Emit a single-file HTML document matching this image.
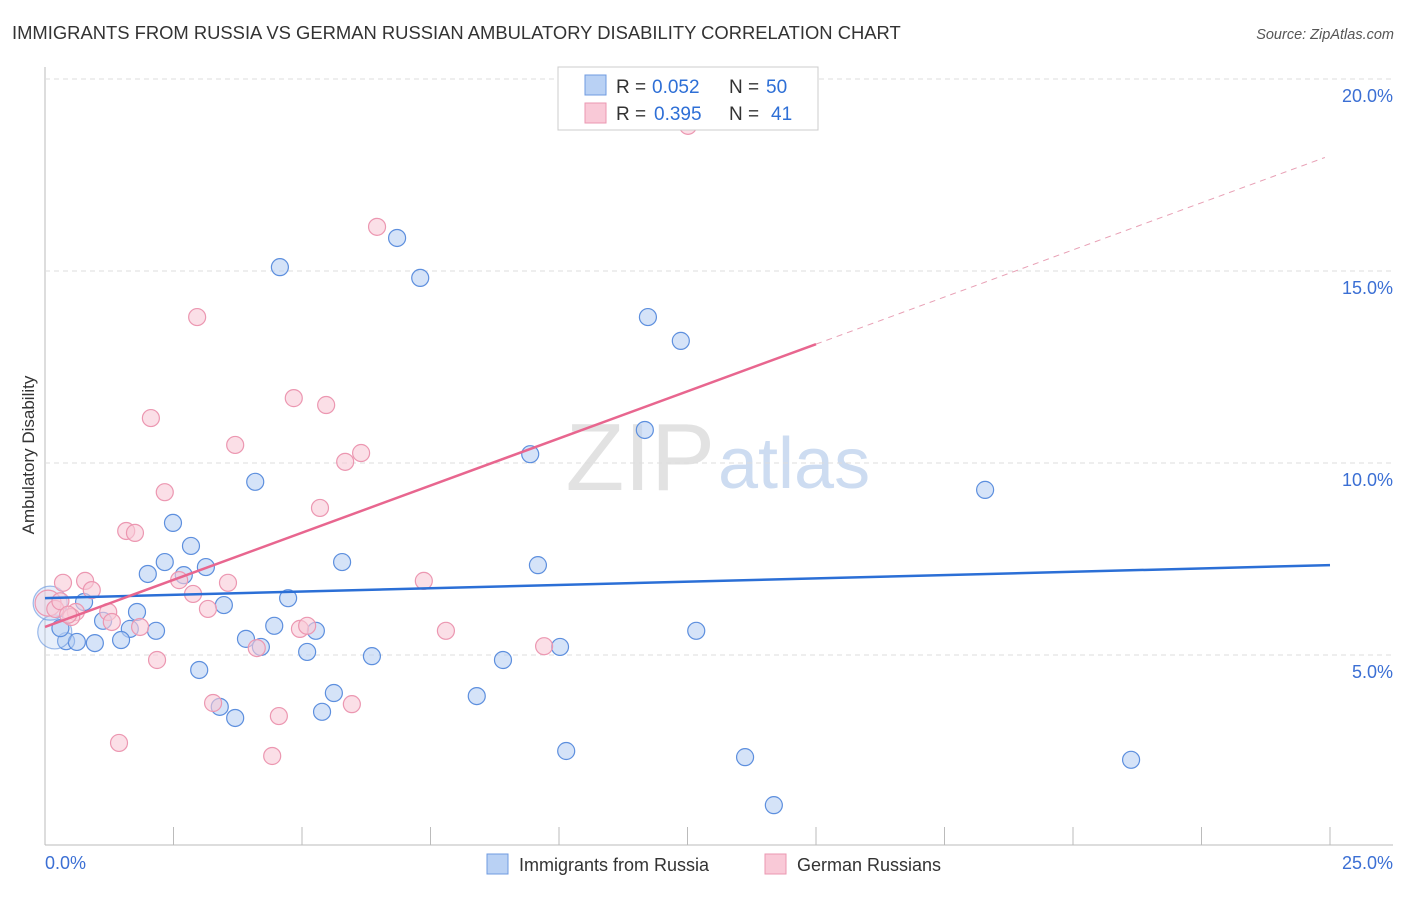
<!DOCTYPE html>
<html><head><meta charset="utf-8"><style>
body{margin:0;background:#fff;font-family:"Liberation Sans",sans-serif}
svg text{font-family:"Liberation Sans",sans-serif}
</style></head><body>
<svg id="c" width="1406" height="892" xmlns="http://www.w3.org/2000/svg">
<text x="12" y="39" font-size="18.4" fill="#333">IMMIGRANTS FROM RUSSIA VS GERMAN RUSSIAN AMBULATORY DISABILITY CORRELATION CHART</text>
<text x="1394" y="39" font-size="14.5" fill="#555" font-style="italic" text-anchor="end">Source: ZipAtlas.com</text>
<text x="715" y="490" font-size="96" fill="#e2e2e2" text-anchor="end" font-family="Liberation Serif">ZIP</text>
<text x="718" y="488" font-size="72" fill="#cddcf1">atlas</text>
<text transform="translate(34,455) rotate(-90)" font-size="17" fill="#333" text-anchor="middle">Ambulatory Disability</text>
<g id="grid"></g><g id="pts"></g><g id="lines"></g>
<g>
<rect x="558" y="67" width="260" height="63" fill="#fff" stroke="#ccc"/>
<rect x="585" y="75" width="21" height="20" fill="#b9d1f4" stroke="#6f9be0"/>
<rect x="585" y="103" width="21" height="20" fill="#f9c9d7" stroke="#eb97b2"/>
<g font-size="19" fill="#333">
<text x="616" y="93">R =</text><text x="652" y="93" fill="#2e6fd6">0.052</text><text x="729" y="93">N =</text><text x="766" y="93" fill="#2e6fd6">50</text></g>
<g font-size="19" fill="#333">
<text x="616" y="120">R =</text><text x="654" y="120" fill="#2e6fd6">0.395</text><text x="729" y="120">N =</text><text x="771" y="120" fill="#2e6fd6">41</text></g>
</g>
<g>
<rect x="487" y="854" width="21" height="20" fill="#b9d1f4" stroke="#6f9be0"/>
<text x="519" y="871" font-size="18" fill="#333">Immigrants from Russia</text>
<rect x="765" y="854" width="21" height="20" fill="#f9c9d7" stroke="#eb97b2"/>
<text x="797" y="871" font-size="18" fill="#333">German Russians</text>
</g>
</svg>
<script>
const yTicks=[5,10,15,20];
const yTickLabels=["5.0%","10.0%","15.0%","20.0%"];
const xTicks=[0,2.5,5,7.5,10,12.5,15,17.5,20,22.5,25];
const russiaX=[4.57,6.85,7.30,11.73,12.37,11.67,9.44,4.09,18.29,2.49,2.84,2.33,2.00,2.70,3.13,5.78,9.59,0.76,1.79,3.48,4.73,1.13,1.65,2.16,4.46,5.27,12.67,0.41,0.62,0.97,1.48,3.91,4.20,5.10,6.36,10.02,8.91,3.00,5.62,8.40,3.40,5.39,3.70,10.14,13.62,21.13,14.18,0.19,0.10,0.30];
const russiaY=[15.10,15.86,14.82,13.80,13.18,10.86,10.23,9.51,9.30,8.44,7.84,7.42,7.11,7.08,7.29,7.42,7.34,6.38,6.12,6.30,6.48,5.89,5.68,5.63,5.76,5.63,5.63,5.36,5.34,5.31,5.39,5.42,5.21,5.08,4.97,5.21,4.87,4.61,4.01,3.93,3.65,3.52,3.36,2.50,2.34,2.27,1.09,5.60,6.35,5.70];
const germanX=[12.51,6.46,2.96,4.84,5.47,2.06,3.70,5.84,6.15,2.33,5.35,1.58,1.75,0.35,0.78,0.91,2.61,2.88,3.56,7.37,0.60,1.23,1.30,0.51,1.85,3.17,4.96,5.10,7.80,9.71,4.12,2.18,3.27,5.97,4.55,1.44,4.42,0.06,0.20,0.30,0.45];
const germanY=[18.78,16.15,13.80,11.69,11.51,11.17,10.47,10.03,10.26,9.24,8.83,8.23,8.18,6.88,6.93,6.69,6.95,6.59,6.88,6.93,6.12,6.12,5.86,5.99,5.73,6.20,5.68,5.76,5.63,5.23,5.18,4.87,3.75,3.72,3.41,2.71,2.37,6.35,6.20,6.40,6.05];
const russiaTrend=[6.48,7.34];
const germanTrend=[5.73,0.491];
const X=v=>45+v*51.4, Y=v=>847-v*38.4;
const ns="http://www.w3.org/2000/svg";
function mk(t,a,p){const e=document.createElementNS(ns,t);for(const k in a)e.setAttribute(k,a[k]);p.appendChild(e);return e;}
const grid=document.getElementById('grid');
let ax=mk('line',{x1:45,y1:845,x2:1393,y2:845,stroke:'#bbb'},grid);


let ay=mk('line',{x1:45,y1:67,x2:45,y2:845,stroke:'#bbb'},grid);


yTicks.forEach((t,i)=>{
 let g=mk('line',{x1:45,y1:Y(t),x2:1393,y2:Y(t),stroke:'#ddd','stroke-dasharray':'5,4'},grid);
 
 
 let l=mk('text',{x:1393,y:Y(t)+23,'font-size':18,fill:'#3b6fd4','text-anchor':'end'},grid);
 l.textContent=yTickLabels[i];
 
 
});
let tg=mk('line',{x1:45,y1:79,x2:1393,y2:79,stroke:'#ddd','stroke-dasharray':'5,4'},grid);


xTicks.forEach(t=>{
 let k=mk('line',{x1:X(t),y1:827,x2:X(t),y2:845,stroke:'#bbb'},grid);
 
 
});
let x0=mk('text',{x:45,y:869,'font-size':18,fill:'#3b6fd4'},grid);x0.textContent='0.0%';


let x1=mk('text',{x:1393,y:869,'font-size':18,fill:'#3b6fd4','text-anchor':'end'},grid);x1.textContent='25.0%';


const pts=document.getElementById('pts');
russiaX.forEach((x,i)=>{
 const big=i>=47&&i<=48;
 let c=mk('circle',{cx:X(x),cy:Y(russiaY[i]),r:big?17:8.5,fill:'#b9d1f4','fill-opacity':big?0.35:0.6,stroke:'#5d8fde','stroke-opacity':big?0.6:1,'stroke-width':1.2},pts);
 
 
});
germanX.forEach((x,i)=>{
 const big=i==37;
 let c=mk('circle',{cx:X(x),cy:Y(germanY[i]),r:big?13:8.5,fill:'#f9c9d7','fill-opacity':big?0.4:0.6,stroke:'#ec97b1','stroke-width':1.2},pts);
 
 
});
const ln=document.getElementById('lines');
let bl=mk('line',{x1:X(0),y1:Y(russiaTrend[0]),x2:X(25),y2:Y(russiaTrend[1]),stroke:'#2b6fd6','stroke-width':2.5},ln);


const gy=x=>germanTrend[0]+germanTrend[1]*x;
let pl=mk('line',{x1:X(0),y1:Y(gy(0)),x2:X(15),y2:Y(gy(15)),stroke:'#e8668f','stroke-width':2.5},ln);


let pd=mk('line',{x1:X(15),y1:Y(gy(15)),x2:X(24.9),y2:Y(gy(24.9)),stroke:'#e8a0b5','stroke-width':1,'stroke-dasharray':'6,5'},ln);


</script>
</body></html>
